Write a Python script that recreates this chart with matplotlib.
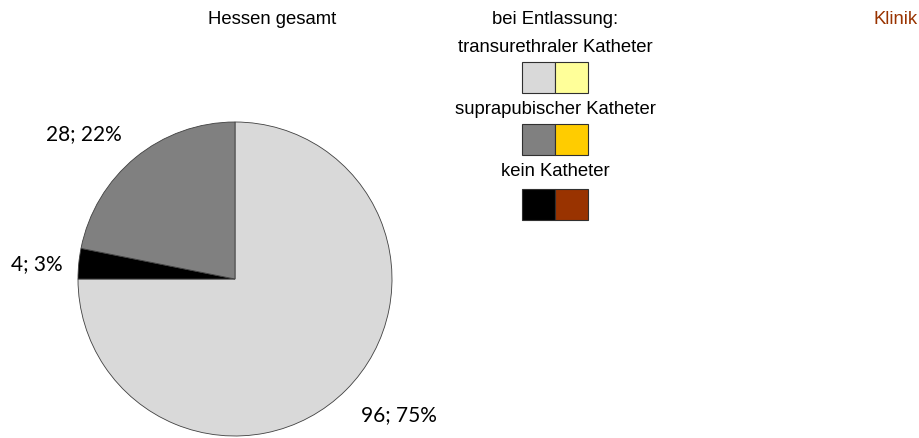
import matplotlib.pyplot as plt
from matplotlib.patches import Rectangle

# Hessen gesamt, bei Entlassung
werte = [96, 4, 28]
prozent = [75, 3, 22]
farben_hessen = ["#D9D9D9", "#000000", "#808080"]

legende_texte = ["transurethraler Katheter", "suprapubischer Katheter", "kein Katheter"]
legende_hessen = ["#D9D9D9", "#808080", "#000000"]
legende_klinik = ["#FFFF99", "#FFCC00", "#993300"]

W, H = 920, 438
fig = plt.figure(figsize=(W / 100, H / 100), dpi=100)

def fx(px):
    return px / W

def fy(py):
    return 1 - py / H

# pie, centre (235, 279) px, radius 157 px
cx, cy, r = 235, 279, 157
ax = fig.add_axes([fx(cx - r), fy(cy + r), 2 * r / W, 2 * r / H])
labels = [f"{w}; {p}%" for w, p in zip(werte, prozent)]
wedges, texts = ax.pie(werte, colors=farben_hessen, startangle=90, counterclock=False,
                       labels=labels, labeldistance=1.1,
                       wedgeprops=dict(edgecolor="#404040", linewidth=0.6),
                       textprops=dict(fontsize=15, family="Lato", color="black"))
# label spots like the original (outside the slices)
label_pos = [(0.80, -0.87), (-1.10, 0.095), (-0.72, 0.92)]
for t, pos in zip(texts, label_pos):
    t.set_position(pos)
    t.set_va("center")
ax.set_xlim(-1, 1)
ax.set_ylim(-1, 1)
ax.set_aspect("auto")
ax.axis("off")

fs = 13.3
fig.text(fx(272), fy(20), "Hessen gesamt", ha="center", va="center",
         fontsize=fs, family="Liberation Sans")
fig.text(fx(555), fy(20), "bei Entlassung:", ha="center", va="center",
         fontsize=fs, family="Liberation Sans")
fig.text(fx(918), fy(20), "Klinik", ha="right", va="center",
         fontsize=fs, family="Liberation Sans", color="#993300")

# legend rows
text_y = [48, 110, 172]
box_y = [62, 124, 189]
for i, txt in enumerate(legende_texte):
    fig.text(fx(555), fy(text_y[i]), txt, ha="center", va="center",
             fontsize=fs, family="Liberation Sans")
    for j, farbe in enumerate([legende_hessen[i], legende_klinik[i]]):
        x0 = 522 + j * 33
        fig.patches.append(Rectangle((fx(x0), fy(box_y[i] + 31)), 33 / W, 31 / H,
                                     transform=fig.transFigure, facecolor=farbe,
                                     edgecolor="#303030", linewidth=0.8))

fig.savefig("out.png", dpi=100)
